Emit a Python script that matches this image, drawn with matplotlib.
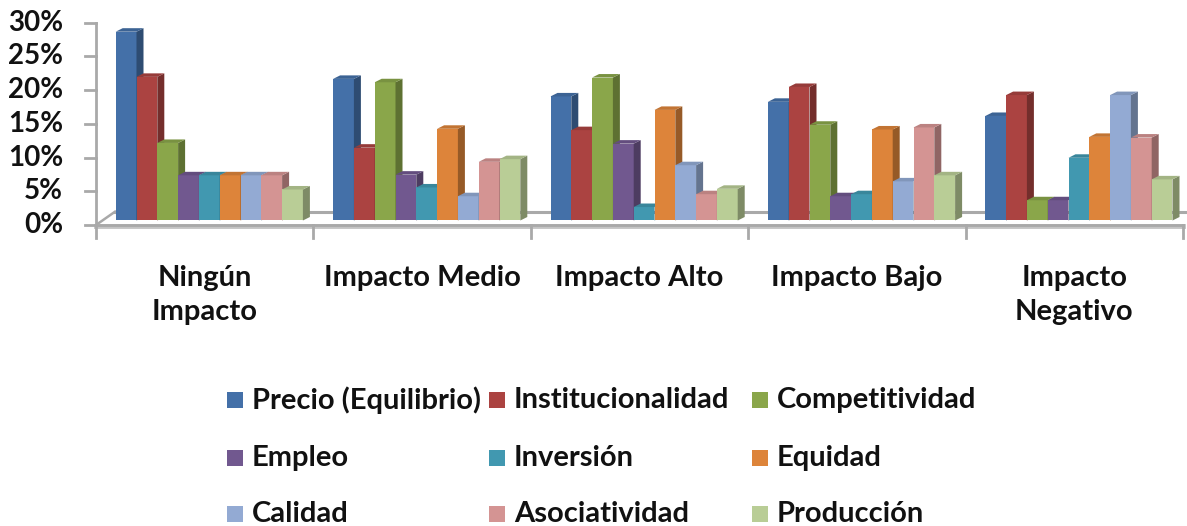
import matplotlib.pyplot as plt
import matplotlib.colors as mcolors
from matplotlib.patches import Polygon, Rectangle

categories = ['Ningún\nImpacto', 'Impacto Medio', 'Impacto Alto', 'Impacto Bajo', 'Impacto\nNegativo']
series_names = ['Precio (Equilibrio)', 'Institucionalidad', 'Competitividad',
                'Empleo', 'Inversión', 'Equidad',
                'Calidad', 'Asociatividad', 'Producción']

# porcentajes por categoría de impacto
precio = [28.0, 21.0, 18.4, 17.6, 15.5]
institucionalidad = [21.3, 10.8, 13.4, 19.8, 18.6]
competitividad = [11.5, 20.5, 21.2, 14.2, 3.0]
empleo = [6.7, 6.8, 11.4, 3.6, 3.0]
inversion = [6.7, 4.9, 2.0, 3.9, 9.3]
equidad = [6.7, 13.6, 16.4, 13.5, 12.4]
calidad = [6.7, 3.6, 8.2, 5.8, 18.6]
asociatividad = [6.7, 8.7, 3.9, 13.8, 12.3]
produccion = [4.6, 9.1, 4.7, 6.7, 6.1]

values = [precio, institucionalidad, competitividad, empleo, inversion,
          equidad, calidad, asociatividad, produccion]
colors = ['#4470a8', '#ab4341', '#8aa64a', '#71588f', '#4198b0',
          '#dd843a', '#93aad3', '#d49493', '#b9cd96']

yticks = [0, 5, 10, 15, 20, 25, 30]

FONT = 'Lato'
FS = 21

W, H = 1187, 526
fig = plt.figure(figsize=(W / 100, H / 100), dpi=100)

# pixel layout of the plotting area
x0_px, x1_px = 96, 1187
y0_px, y30_px = 225, 22.7
cat_px = 217.4
ax = fig.add_axes([x0_px / W, 1 - y0_px / H, (x1_px - x0_px) / W, (y0_px - y30_px) / H])
ax.set_xlim(0, (x1_px - x0_px) / cat_px)
ax.set_ylim(0, 30)
ax.axis('off')

px_x = 1 / cat_px          # data units per pixel (x)
px_y = 30 / (y0_px - y30_px)  # data units per pixel (y)

# 3D depth offsets
dx, dy = 7 * px_x, 3.5 * px_y
base = 4.5 * px_y
bar_w = 20.8 * px_x
first = 19.7 * px_x

grid_c = '#a9a9a9'

# floor
back_y = 13.3 * px_y
ax.plot([0, 19 * px_x], [0, back_y], color=grid_c, lw=1.8, clip_on=False, zorder=1)
ax.plot([19 * px_x, 5.1], [back_y, back_y], color=grid_c, lw=2.2, clip_on=False, zorder=1)
ax.plot([0, 5], [-1.2 * px_y, -1.2 * px_y], color='#c4c4c4', lw=3.5, clip_on=False, zorder=1)
ax.plot([0, 5], [0, 0], color=grid_c, lw=2, clip_on=False, zorder=1)

# vertical axis with ticks
ax.plot([0, 0], [-13 * px_y, 30], color=grid_c, lw=2, clip_on=False, zorder=1)
for t in yticks:
    ax.plot([-11 * px_x, 0], [t, t], color=grid_c, lw=2, clip_on=False, zorder=1)
    ax.text(-33 * px_x, t, f'{t}%', ha='right', va='center', fontsize=FS - 1,
            family=FONT, fontweight='bold', color='#111111')
for k in range(1, 6):
    ax.plot([k, k], [0, -13 * px_y], color=grid_c, lw=2, clip_on=False, zorder=1)

# 3D columns
for j, (vals, c) in enumerate(zip(values, colors)):
    rgb = mcolors.to_rgb(c)
    side = tuple(v * 0.68 for v in rgb)
    top = tuple(v * 0.88 for v in rgb)
    xs = [i + first + j * bar_w for i in range(len(categories))]
    ax.bar(xs, vals, width=bar_w, bottom=base, align='edge', color=c,
           edgecolor='none', zorder=10 + j)
    for x, v in zip(xs, vals):
        t = base + v
        ax.add_patch(Polygon([(x + bar_w, base), (x + bar_w + dx, base + dy),
                              (x + bar_w + dx, t + dy), (x + bar_w, t)],
                             closed=True, fc=side, ec='none', zorder=10 + j))
        ax.add_patch(Polygon([(x, t), (x + dx, t + dy), (x + bar_w + dx, t + dy),
                              (x + bar_w, t)],
                             closed=True, fc=top, ec='none', zorder=10 + j))

# category labels
for i, cat in enumerate(categories):
    ax.text(i + 0.5, -40 * px_y, cat, ha='center', va='top', fontsize=FS,
            family=FONT, fontweight='bold', color='#111111', linespacing=1.38)

# legend, three rows of three entries
col_x = [227, 489, 752]
row_y = [400, 458, 514]
for n, (name, c) in enumerate(zip(series_names, colors)):
    r, k = divmod(n, 3)
    sx, sy = col_x[k], row_y[r]
    fig.patches.append(Rectangle((sx / W, 1 - (sy + 8) / H), 16 / W, 16 / H,
                                 transform=fig.transFigure, fc=c, ec='none'))
    fig.text((sx + 25) / W, 1 - sy / H, name, ha='left', va='center',
             fontsize=FS, family=FONT, fontweight='bold', color='#111111')

fig.savefig('out.png', dpi=100)
